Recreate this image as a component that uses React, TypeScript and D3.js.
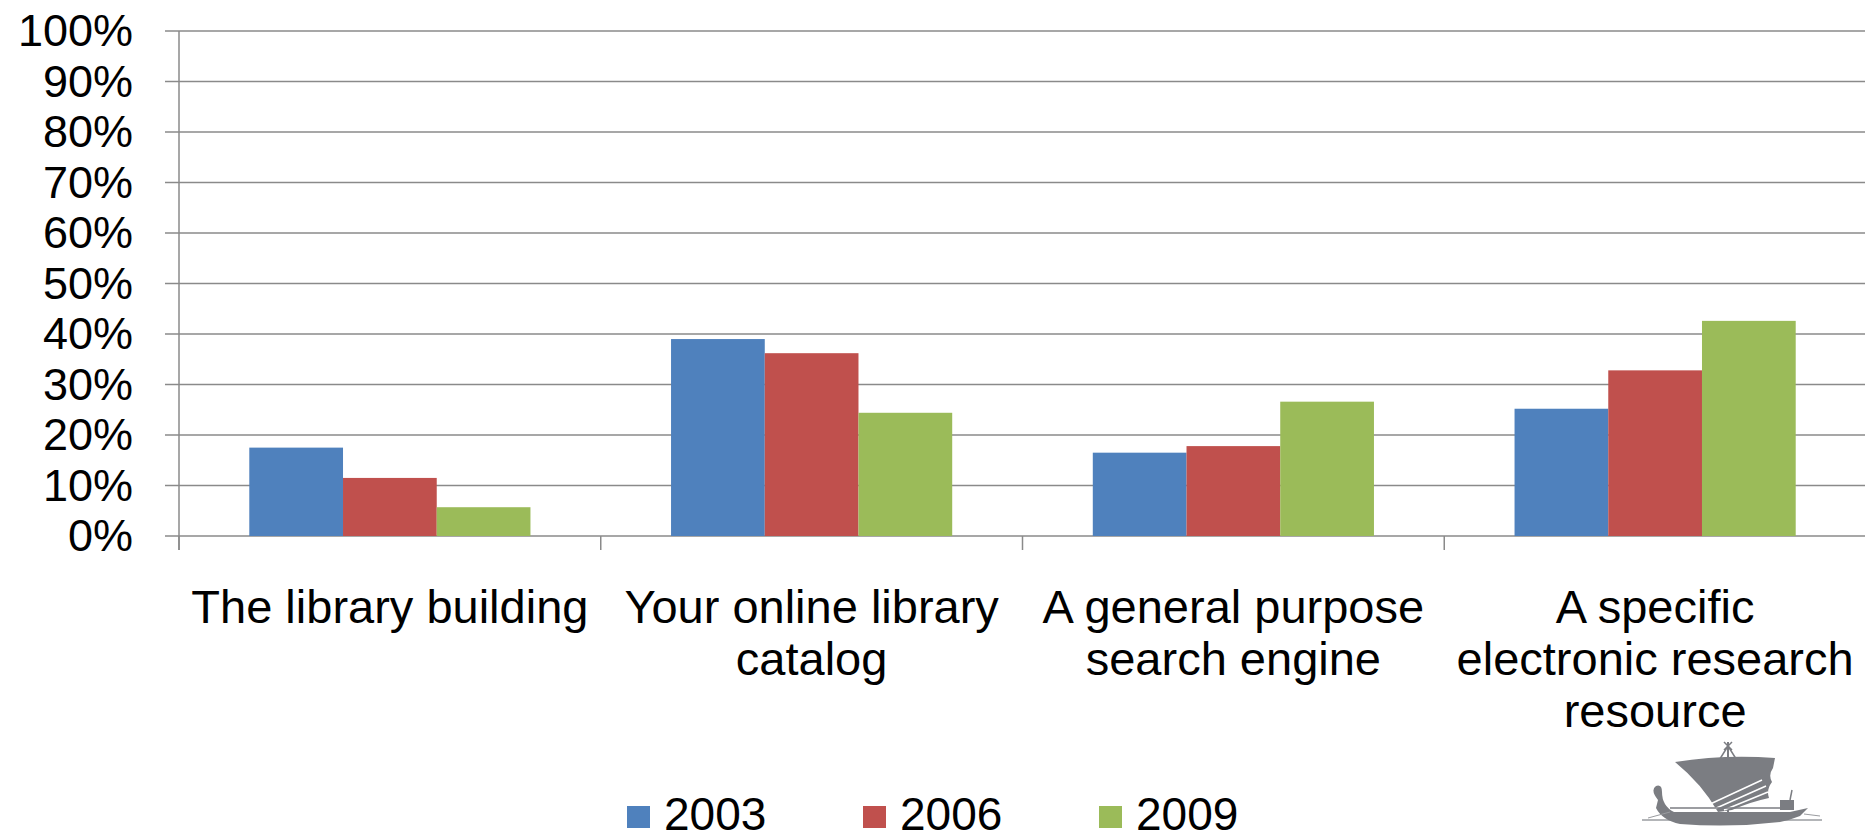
import React from "react";
import * as d3 from "d3";

const categories = ["c1", "c2", "c3", "c4"];
const categoryLabels: string[][] = [
  ["The library building"],
  ["Your online library", "catalog"],
  ["A general purpose", "search engine"],
  ["A specific", "electronic research", "resource"],
];
const seriesNames = ["2003", "2006", "2009"];
const values2003 = [0.175, 0.39, 0.165, 0.252];
const values2006 = [0.115, 0.362, 0.178, 0.328];
const values2009 = [0.057, 0.244, 0.266, 0.426];
const seriesValues = [values2003, values2006, values2009];
const seriesColors = ["#4F81BD", "#C0504D", "#9BBB59"];
const yTicks = [0, 0.1, 0.2, 0.3, 0.4, 0.5, 0.6, 0.7, 0.8, 0.9, 1.0];

const W = 1865;
const H = 840;
const FONT = "'Liberation Sans', Arial, sans-serif";
const GRID = "#8a8a8a";

export default function App() {
  const plotLeft = 179;
  const plotRight = 1866;
  const yBase = 536;
  const yTop = 31;

  const x = d3.scaleBand().domain(categories).range([plotLeft, plotRight]).padding(0);
  const xInner = d3
    .scaleBand()
    .domain(seriesNames)
    .range([0, x.bandwidth()])
    .paddingInner(0)
    .paddingOuter(0.75);
  const y = d3.scaleLinear().domain([0, 1]).range([yBase, yTop]);
  const fmt = d3.format(".0%");

  const tickLen = 14;
  const yFont = 45;
  const catFont = 47;
  const legFont = 46;
  const lineH = 52;

  const legendX = d3.scalePoint().domain(seriesNames).range([627, 1099]);

  return (
    <svg
      width={W}
      height={H}
      style={{ position: "absolute", left: 0, top: 0, background: "#fff" }}
      fontFamily={FONT}
    >
      {/* gridlines */}
      {yTicks.map((t) => (
        <line
          key={"g" + t}
          x1={plotLeft - tickLen}
          x2={plotRight}
          y1={y(t)}
          y2={y(t)}
          stroke={GRID}
          strokeWidth={1.5}
        />
      ))}
      {/* y axis */}
      <line x1={plotLeft} x2={plotLeft} y1={y(1)} y2={yBase + tickLen} stroke={GRID} strokeWidth={1.5} />
      {/* y labels */}
      {yTicks.map((t) => (
        <text
          key={"yl" + t}
          x={133}
          y={y(t) + 15}
          textAnchor="end"
          fontSize={yFont}
          fill="#000"
        >
          {fmt(t)}
        </text>
      ))}
      {/* bars */}
      {seriesNames.map((s, si) =>
        categories.map((c, ci) => {
          const v = seriesValues[si][ci];
          const bx = (x(c) as number) + (xInner(s) as number);
          return (
            <rect
              key={s + c}
              x={bx}
              y={y(v)}
              width={xInner.bandwidth()}
              height={yBase - y(v)}
              fill={seriesColors[si]}
            />
          );
        })
      )}
      {/* category ticks */}
      {categories.map((c) => (
        <line
          key={"t" + c}
          x1={x(c) as number}
          x2={x(c) as number}
          y1={yBase}
          y2={yBase + tickLen}
          stroke={GRID}
          strokeWidth={1.5}
        />
      ))}
      {/* category labels */}
      {categories.map((c, ci) => (
        <text
          key={"cl" + c}
          x={(x(c) as number) + x.bandwidth() / 2}
          y={623}
          textAnchor="middle"
          fontSize={catFont}
          fill="#000"
        >
          {categoryLabels[ci].map((ln, li) => (
            <tspan key={li} x={(x(c) as number) + x.bandwidth() / 2} dy={li === 0 ? 0 : lineH}>
              {ln}
            </tspan>
          ))}
        </text>
      ))}
      {/* legend */}
      {seriesNames.map((s, si) => (
        <g key={"lg" + s} transform={`translate(${legendX(s)},0)`}>
          <rect x={0} y={806} width={23} height={22} fill={seriesColors[si]} />
          <text x={37} y={830} fontSize={legFont} fill="#000">
            {s}
          </text>
        </g>
      ))}
      {/* ship logo */}
      <g transform="translate(1640,740)" fill="#7b7d82" stroke="none">
        <line x1={2} x2={182} y1={80} y2={80} stroke="#9a9ca0" strokeWidth={1.5} />
        <line x1={88} x2={88} y1={2} y2={74} stroke="#7b7d82" strokeWidth={2} />
        <path d="M84,2 L92,10 M92,2 L84,10" stroke="#7b7d82" strokeWidth={1.5} />
        <path d="M88,6 L78,22 M88,6 L98,22" stroke="#7b7d82" strokeWidth={1.5} fill="none" />
        <path d="M35,22 Q85,14 135,18 L133,28 Q128,35 132,42 Q126,50 129,58 Q110,62 92,70 L78,72 Q62,44 35,22 Z" />
        <path d="M66,66 L122,40 M72,70 L126,46 M84,70 L128,52" stroke="#fff" strokeWidth={1.5} fill="none" />
        <path d="M18,60 Q10,50 16,46 Q22,44 22,52 Q22,66 34,72 L150,72 L168,68 L160,76 Q150,80 140,82 Q90,88 40,84 Q22,80 16,68 Z" />
        <path d="M30,68 L152,68" stroke="#7b7d82" strokeWidth={1.5} fill="none" />
        <rect x={140} y={60} width={14} height={10} />
        <path d="M150,60 L152,50" stroke="#7b7d82" strokeWidth={1.5} />
        <path d="M8,78 L30,72 M164,74 L180,76" stroke="#9a9ca0" strokeWidth={1} />
      </g>
    </svg>
  );
}
